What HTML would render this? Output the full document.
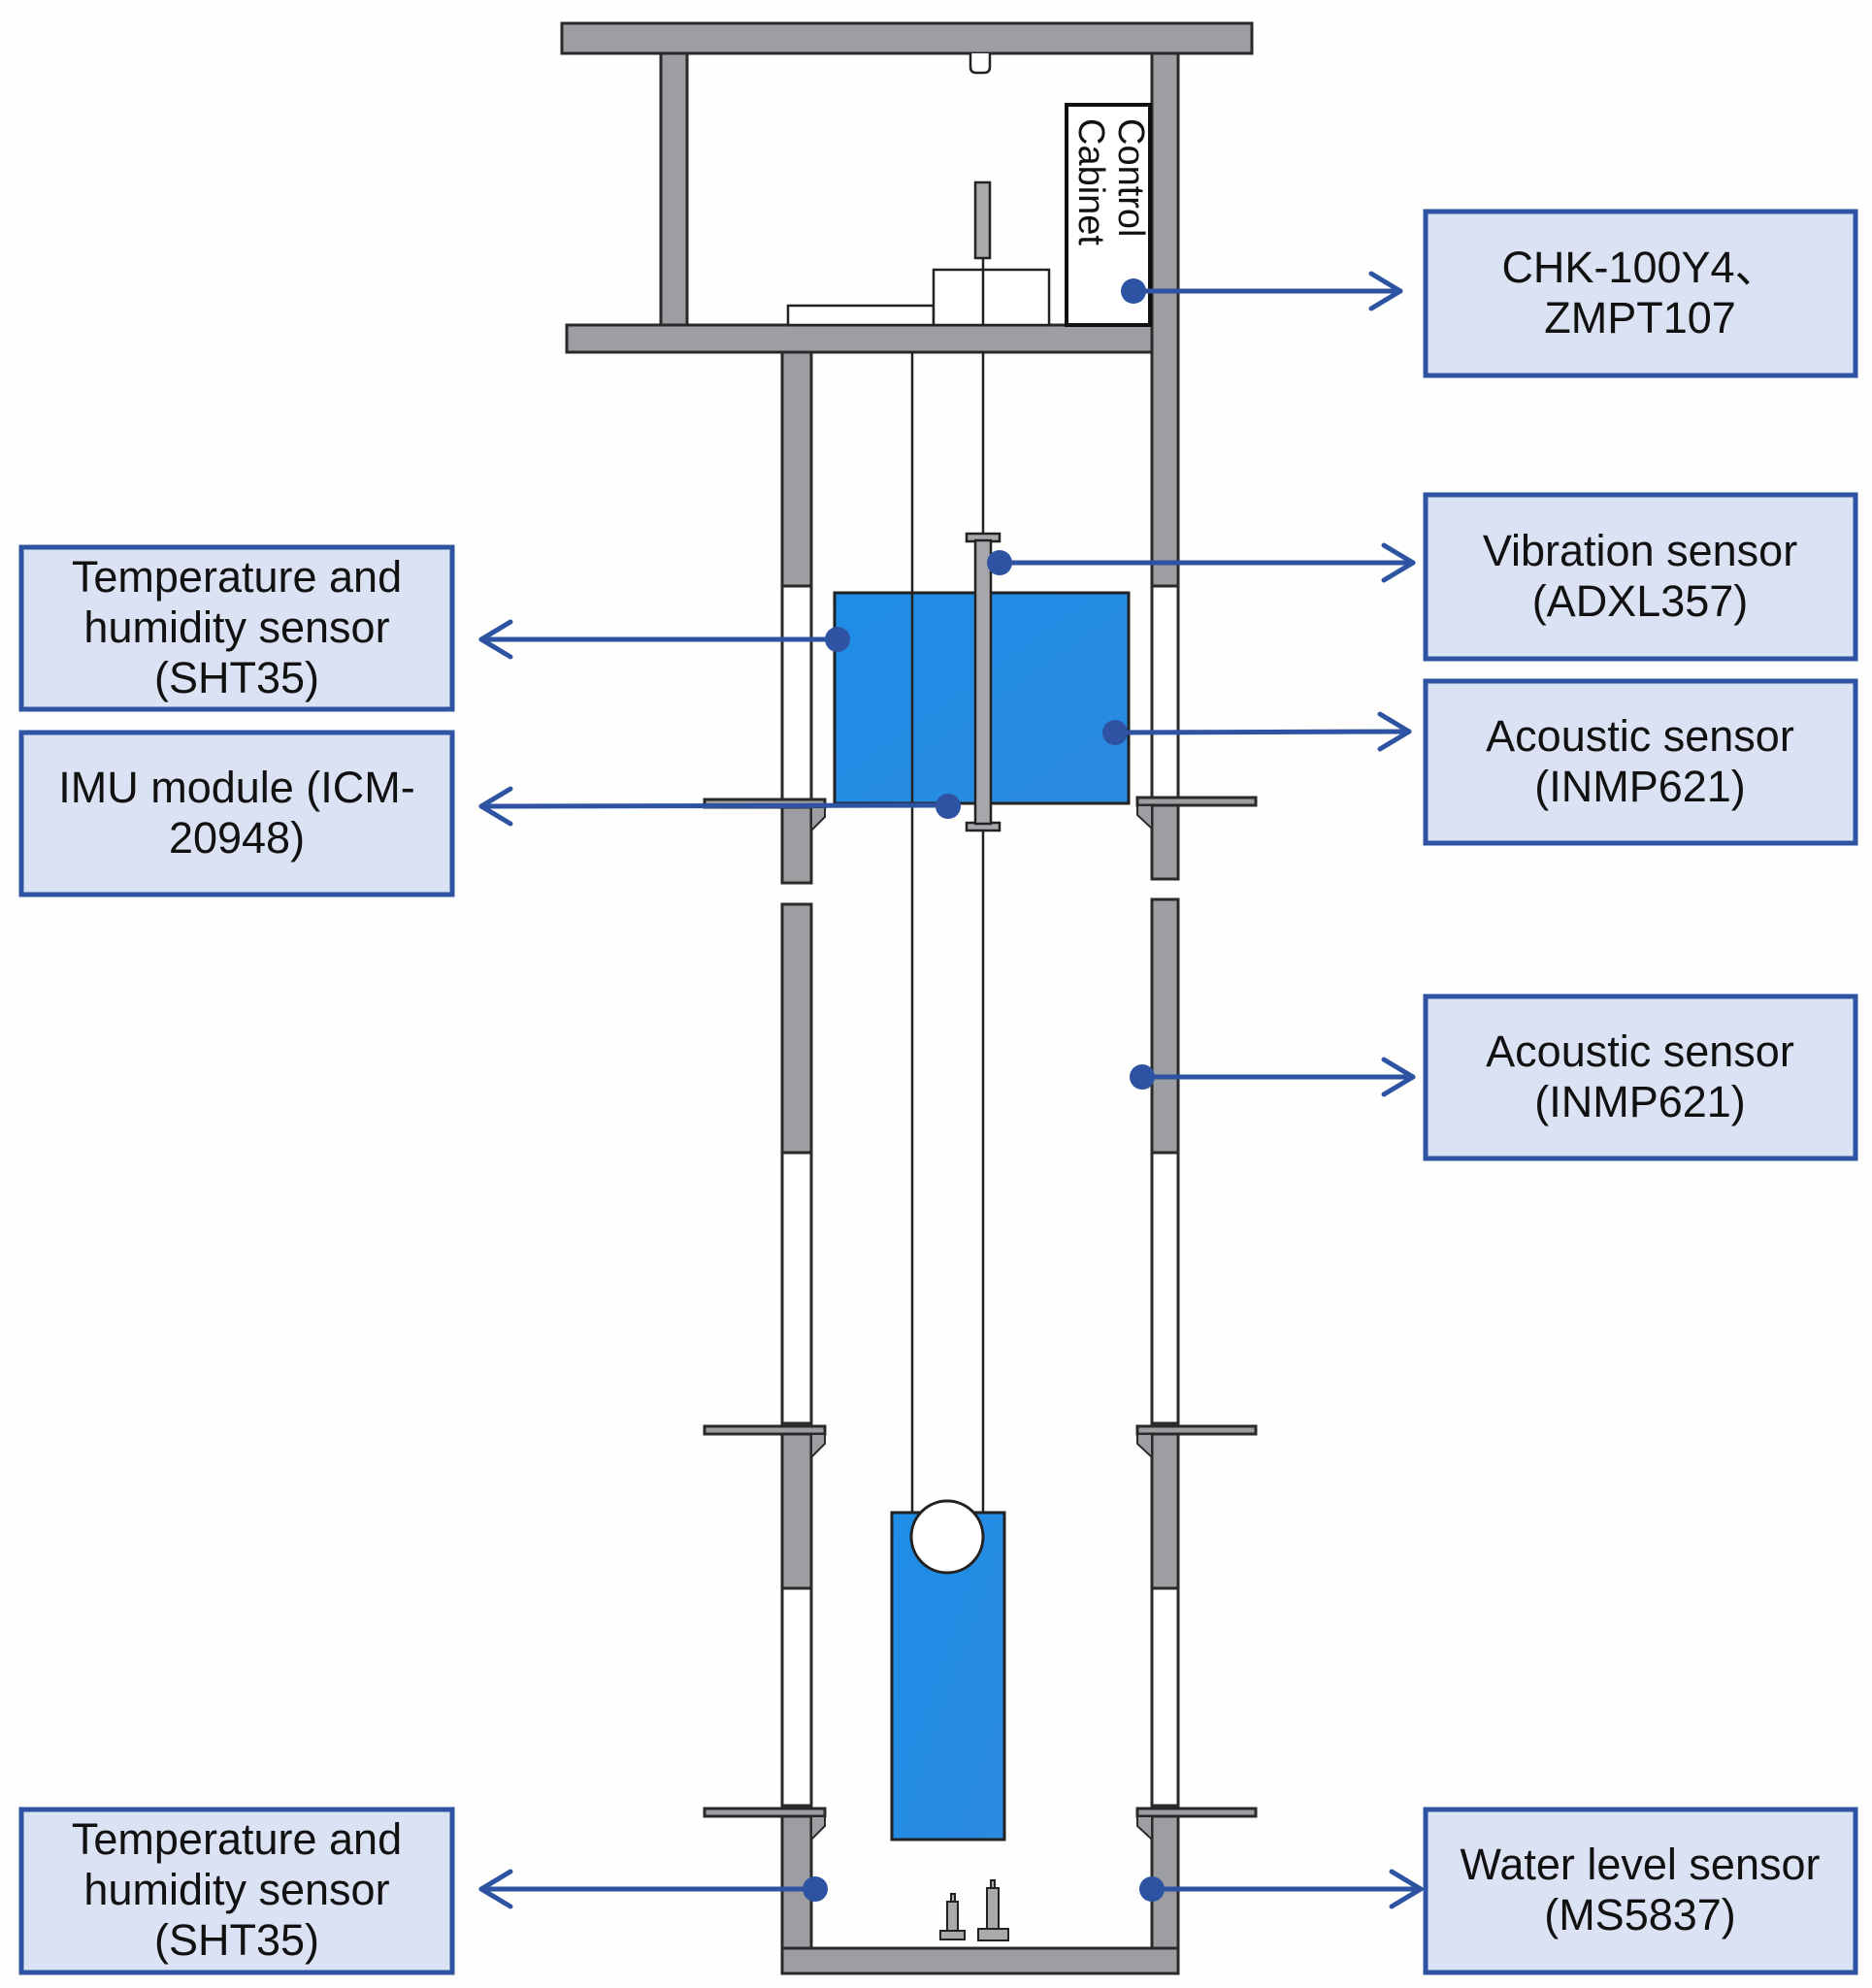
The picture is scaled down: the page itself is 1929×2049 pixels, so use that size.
<!DOCTYPE html>
<html><head><meta charset="utf-8"><style>
html,body{margin:0;padding:0;background:#fefefc;}
svg{display:block}
text{font-family:"Liberation Sans","Noto Sans CJK SC",sans-serif;fill:#111;}
</style></head><body>
<svg width="1929" height="2049" viewBox="0 0 1929 2049" xmlns="http://www.w3.org/2000/svg">
<defs>
<linearGradient id="blu" x1="0" y1="0" x2="1" y2="1"><stop offset="0" stop-color="#1f8de6"/><stop offset="1" stop-color="#2a8ae0"/></linearGradient>
</defs>
<g stroke="#2a2a2a" stroke-width="3" fill="#9d9ea2">
<rect x="579" y="24" width="711" height="31"/>
<rect x="681" y="55" width="27" height="280"/>
<rect x="584" y="335" width="630" height="28"/>
<rect x="806" y="363" width="30" height="241"/>
<rect x="806" y="604" width="30" height="223" fill="#fff"/>
<rect x="806" y="827" width="30" height="83"/>
<rect x="806" y="932" width="30" height="256"/>
<rect x="806" y="1188" width="30" height="279" fill="#fff"/>
<rect x="806" y="1467" width="30" height="170"/>
<rect x="806" y="1637" width="30" height="224" fill="#fff"/>
<rect x="806" y="1861" width="30" height="173"/>
<rect x="1187" y="55" width="27" height="549"/>
<rect x="1187" y="604" width="27" height="220" fill="#fff"/>
<rect x="1187" y="824" width="27" height="82"/>
<rect x="1187" y="927" width="27" height="261"/>
<rect x="1187" y="1188" width="27" height="279" fill="#fff"/>
<rect x="1187" y="1467" width="27" height="170"/>
<rect x="1187" y="1637" width="27" height="224" fill="#fff"/>
<rect x="1187" y="1861" width="27" height="173"/>
<rect x="806" y="2008" width="408" height="26"/>
<rect x="726" y="824" width="124" height="8"/>
<rect x="726" y="1470" width="124" height="8"/>
<rect x="726" y="1864" width="124" height="8"/>
<rect x="1172" y="822" width="122" height="8"/>
<rect x="1172" y="1470" width="122" height="8"/>
<rect x="1172" y="1864" width="122" height="8"/>
</g>
<g fill="#9d9ea2" stroke="#2a2a2a" stroke-width="2">
<polygon points="836,832 850,832 850,842 836,856"/>
<polygon points="836,1478 850,1478 850,1488 836,1502"/>
<polygon points="836,1872 850,1872 850,1882 836,1896"/>
<polygon points="1187,830 1172,830 1172,840 1187,854"/>
<polygon points="1187,1478 1172,1478 1172,1488 1187,1502"/>
<polygon points="1187,1872 1172,1872 1172,1882 1187,1896"/>
</g>
<g stroke="#222" stroke-width="2.5" fill="#fff">
<path d="M1000,55 v14 q0,6 6,6 h8 q6,0 6,-6 v-14"/>
<rect x="812" y="315" width="150" height="20"/>
<rect x="962" y="278" width="119" height="57"/>
<rect x="1005" y="188" width="15" height="78" fill="#aaa"/>
<line x1="1013" y1="266" x2="1013" y2="335"/>
</g>
<rect x="1099" y="108" width="86" height="227" fill="#fff" stroke="#111" stroke-width="4"/>
<text transform="translate(1153,122) rotate(90)" font-size="38">Control</text>
<text transform="translate(1112,122) rotate(90)" font-size="38">Cabinet</text>
<g stroke="#222" stroke-width="2.5">
<line x1="940" y1="363" x2="940" y2="1558"/>
<line x1="1013" y1="363" x2="1013" y2="1558"/>
</g>
<rect x="860" y="611" width="303" height="217" fill="url(#blu)" stroke="#222" stroke-width="3"/>
<line x1="940" y1="611" x2="940" y2="828" stroke="#222" stroke-width="2.5"/>
<g stroke="#222" stroke-width="2.5" fill="#a8a8ac">
<rect x="996" y="550" width="34" height="8"/>
<rect x="996" y="848" width="34" height="8"/>
<rect x="1005" y="557" width="16" height="292"/>
</g>
<rect x="919" y="1559" width="116" height="337" fill="url(#blu)" stroke="#222" stroke-width="3"/>
<circle cx="976" cy="1584" r="37" fill="#fff" stroke="#222" stroke-width="3"/>
<g stroke="#222" stroke-width="2" fill="#aaa">
<rect x="980" y="1952" width="4" height="8"/>
<rect x="976" y="1960" width="11" height="30"/>
<rect x="969" y="1990" width="25" height="9"/>
<rect x="1021" y="1938" width="4" height="8"/>
<rect x="1017" y="1946" width="12" height="42"/>
<rect x="1008" y="1988" width="31" height="12"/>
</g>
<g stroke="#2f53a3" stroke-width="5" fill="none" stroke-linecap="round" stroke-linejoin="round">
<line x1="1168" y1="300" x2="1443" y2="300"/><polyline points="1413,282 1443,300 1413,318"/>
<line x1="1030" y1="580" x2="1456" y2="580"/><polyline points="1426,562 1456,580 1426,598"/>
<line x1="863" y1="659" x2="496" y2="659"/><polyline points="526,641 496,659 526,677"/>
<line x1="1149" y1="755" x2="1452" y2="754"/><polyline points="1422,736 1452,754 1422,772"/>
<line x1="977" y1="830" x2="496" y2="831"/><polyline points="526,813 496,831 526,849"/>
<line x1="1177" y1="1110" x2="1456" y2="1110"/><polyline points="1426,1092 1456,1110 1426,1128"/>
<line x1="840" y1="1947" x2="496" y2="1947"/><polyline points="526,1929 496,1947 526,1965"/>
<line x1="1187" y1="1947" x2="1464" y2="1947"/><polyline points="1434,1929 1464,1947 1434,1965"/>
</g>
<g fill="#2f53a3">
<circle cx="1168" cy="300" r="13"/><circle cx="1030" cy="580" r="13"/>
<circle cx="863" cy="659" r="13"/><circle cx="1149" cy="755" r="13"/>
<circle cx="977" cy="831" r="13"/><circle cx="1177" cy="1110" r="13"/>
<circle cx="840" cy="1947" r="13"/><circle cx="1187" cy="1947" r="13"/>
</g>
<g fill="#dae2f3" stroke="#2f53a3" stroke-width="5">
<rect x="1469" y="218" width="443" height="169"/>
<rect x="1469" y="510" width="443" height="169"/>
<rect x="1469" y="702" width="443" height="167"/>
<rect x="1469" y="1027" width="443" height="167"/>
<rect x="1469" y="1865" width="443" height="168"/>
<rect x="22" y="564" width="444" height="167"/>
<rect x="22" y="755" width="444" height="167"/>
<rect x="22" y="1865" width="444" height="168"/>
</g>
<g font-size="45" text-anchor="middle">
<text x="1690" y="291">CHK-100Y4、</text><text x="1690" y="343">ZMPT107</text>
<text x="1690" y="583">Vibration sensor</text><text x="1690" y="635">(ADXL357)</text>
<text x="1690" y="774">Acoustic sensor</text><text x="1690" y="826">(INMP621)</text>
<text x="1690" y="1099">Acoustic sensor</text><text x="1690" y="1151">(INMP621)</text>
<text x="1690" y="1937">Water level sensor</text><text x="1690" y="1989">(MS5837)</text>
<text x="244" y="610">Temperature and</text><text x="244" y="662">humidity sensor</text><text x="244" y="714">(SHT35)</text>
<text x="244" y="827">IMU module (ICM-</text><text x="244" y="879">20948)</text>
<text x="244" y="1911">Temperature and</text><text x="244" y="1963">humidity sensor</text><text x="244" y="2015">(SHT35)</text>
</g>
</svg>
</body></html>
